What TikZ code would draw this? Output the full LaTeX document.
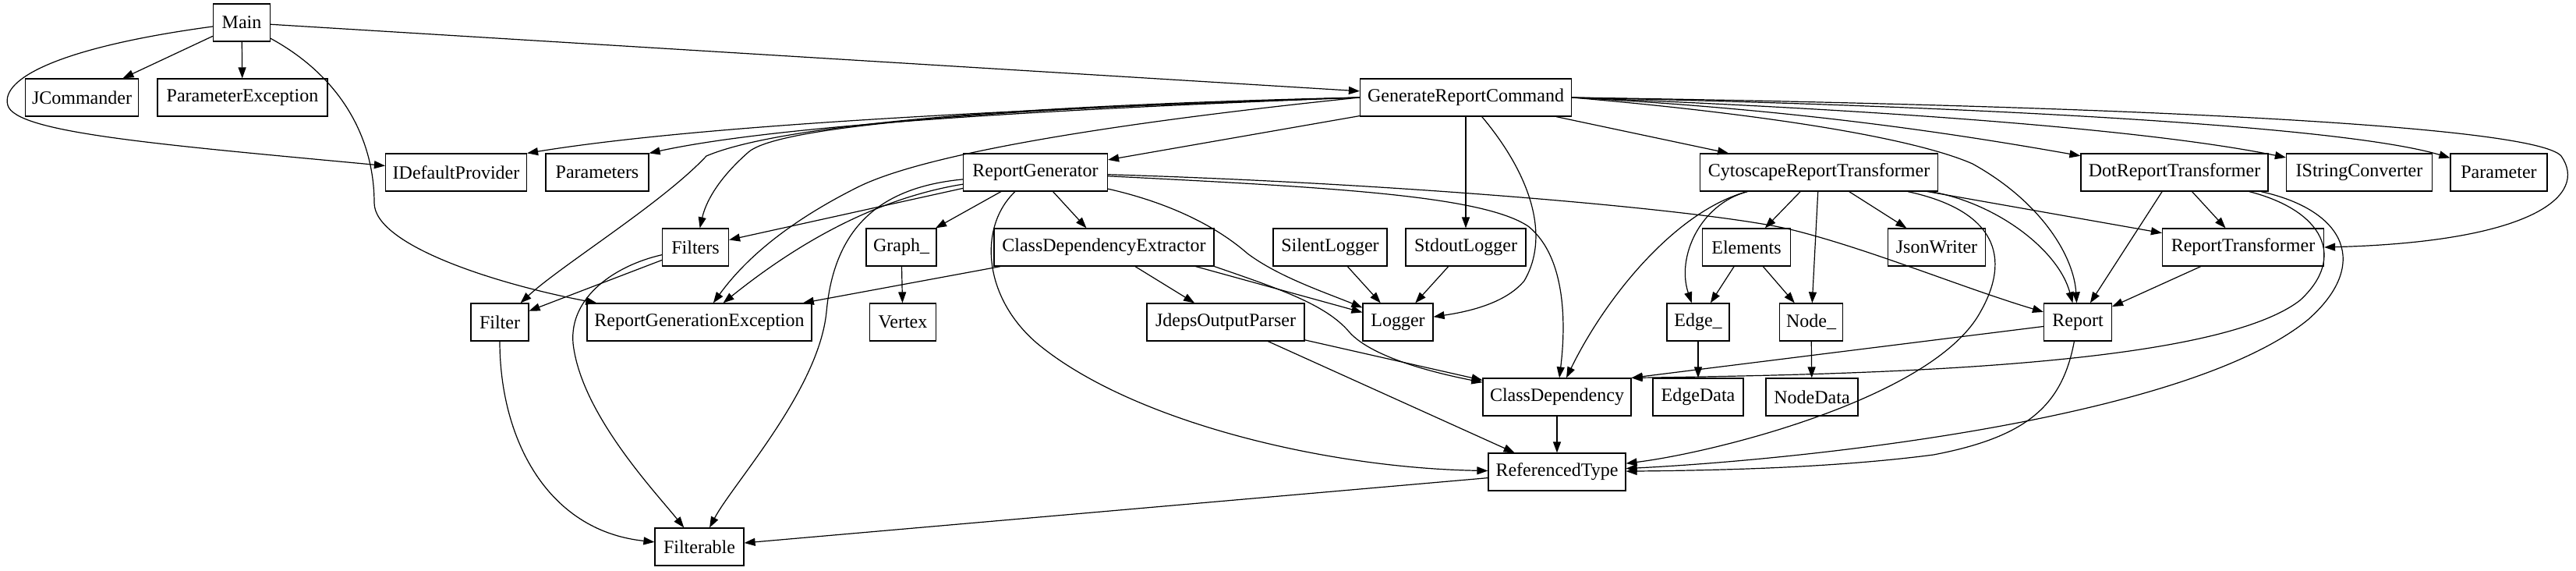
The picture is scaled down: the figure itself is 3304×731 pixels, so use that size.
\documentclass[tikz,border=0pt]{standalone}
\usepackage{fontspec}
\setmainfont{Liberation Serif}
\usetikzlibrary{arrows.meta}
\begin{document}
\begin{tikzpicture}[x=1pt,y=-1pt,
  box/.style={draw, line width=1.2pt, minimum height=48pt, inner sep=0pt, font=\fontsize{24}{28}\selectfont},
  edge/.style={line width=1.2pt, -{Triangle[length=14pt,width=10pt]}}]
\useasboundingbox (0,0) rectangle (3304,731);
% row 1
\node[box, minimum width=73pt] (main) at (310,29) {Main};
% row 2
\node[box, minimum width=145pt] (jcom) at (105,125) {JCommander};
\node[box, minimum width=218pt] (pexc) at (311,125) {ParameterException};
\node[box, minimum width=271pt] (grc) at (1880,125) {GenerateReportCommand};
% row 3
\node[box, minimum width=181pt] (idp) at (585,221) {IDefaultProvider};
\node[box, minimum width=132pt] (params) at (766,221) {Parameters};
\node[box, minimum width=185pt] (rg) at (1328,221) {ReportGenerator};
\node[box, minimum width=305pt] (crt) at (2333,221) {CytoscapeReportTransformer};
\node[box, minimum width=240pt] (drt) at (2789,221) {DotReportTransformer};
\node[box, minimum width=187pt] (isc) at (3026,221) {IStringConverter};
\node[box, minimum width=124pt] (param) at (3205,221) {Parameter};
% row 4
\node[box, minimum width=85pt] (filters) at (892,317) {Filters};
\node[box, minimum width=90pt] (graph) at (1156,317) {Graph\_};
\node[box, minimum width=282pt] (cde) at (1416,317) {ClassDependencyExtractor};
\node[box, minimum width=146pt] (slog) at (1706,317) {SilentLogger};
\node[box, minimum width=154pt] (stdlog) at (1880,317) {StdoutLogger};
\node[box, minimum width=113pt] (elements) at (2240,317) {Elements};
\node[box, minimum width=125pt] (json) at (2484,317) {JsonWriter};
\node[box, minimum width=207pt] (rt) at (2877,317) {ReportTransformer};
% row 5
\node[box, minimum width=74pt] (filter) at (641,413) {Filter};
\node[box, minimum width=288pt] (rex) at (897,413) {ReportGenerationException};
\node[box, minimum width=85pt] (vertex) at (1158,413) {Vertex};
\node[box, minimum width=202pt] (jdeps) at (1572,413) {JdepsOutputParser};
\node[box, minimum width=90pt] (logger) at (1793,413) {Logger};
\node[box, minimum width=80pt] (edge) at (2178,413) {Edge\_};
\node[box, minimum width=81pt] (nodeu) at (2323,413) {Node\_};
\node[box, minimum width=87pt] (report) at (2665,413) {Report};
% row 6
\node[box, minimum width=190pt] (cd) at (1997,509) {ClassDependency};
\node[box, minimum width=116pt] (edgedata) at (2178,509) {EdgeData};
\node[box, minimum width=118pt] (nodedata) at (2324,509) {NodeData};
% row 7
\node[box, minimum width=176pt] (reft) at (1997,605) {ReferencedType};
% row 8
\node[box, minimum width=114pt] (filterable) at (897,701) {Filterable};

% Main
\draw[edge] (main) -- (jcom);
\draw[edge] (main) -- (pexc);
\draw[edge] (main) -- (grc);
\draw[edge] (main) .. controls (80,60) and (0,100) .. (10,135) .. controls (20,170) and (200,185) .. (idp);
\draw[edge] (main) .. controls (440,100) and (480,180) .. (480,260) .. controls (480,315) and (640,365) .. (rex);

% GenerateReportCommand
\draw[edge] (grc.west) .. controls (1300,140) and (900,160) .. (idp.north east);
\draw[edge] (grc.west) .. controls (1350,140) and (1000,160) .. (params.north east);
\draw[edge] (grc) -- (rg);
\draw[edge] (grc.west) .. controls (1300,138) and (1000,160) .. (960,195) .. controls (920,230) and (905,260) .. (filters);
\draw[edge] (grc.west) .. controls (1300,135) and (1000,160) .. (906,200) .. controls (850,260) and (720,340) .. (filter);
\draw[edge] (grc.west) .. controls (1500,150) and (1200,190) .. (1100,240) .. controls (1000,290) and (950,340) .. (rex);
\draw[edge] (grc) -- (stdlog);
\draw[edge] (grc) .. controls (1960,220) and (1990,300) .. (1955,360) .. controls (1930,390) and (1880,400) .. (logger);
\draw[edge] (grc) -- (crt);
\draw[edge] (grc.east) .. controls (2300,140) and (2500,170) .. (drt);
\draw[edge] (grc.east) .. controls (2400,140) and (2750,165) .. (isc);
\draw[edge] (grc.east) .. controls (2500,135) and (3000,160) .. (param);
\draw[edge] (grc.east) .. controls (2700,135) and (3250,160) .. (3285,200) .. controls (3320,250) and (3250,310) .. (rt.east);
\draw[edge] (grc.east) .. controls (2250,145) and (2450,175) .. (2530,210) .. controls (2620,260) and (2660,330) .. (report);

% ReportGenerator
\draw[edge] (rg) -- (filters);
\draw[edge] (rg) .. controls (1150,250) and (1050,290) .. (rex);
\draw[edge] (rg) .. controls (1130,240) and (1070,290) .. (1060,400) .. controls (1050,500) and (940,620) .. (filterable);
\draw[edge] (rg) -- (graph);
\draw[edge] (rg) -- (cde);
\draw[edge] (rg) .. controls (1255,290) and (1260,380) .. (1330,440) .. controls (1450,540) and (1700,600) .. (reft);
\draw[edge] (rg) .. controls (1500,260) and (1560,290) .. (1600,325) .. controls (1640,355) and (1700,375) .. (logger);
\draw[edge] (rg) .. controls (1700,240) and (1900,250) .. (1960,290) .. controls (2010,330) and (2008,420) .. (cd);
\draw[edge] (rg) .. controls (1800,235) and (2200,270) .. (2300,295) .. controls (2400,320) and (2520,370) .. (report);

% Filters, Filter
\draw[edge] (filters) -- (filter);
\draw[edge] (filters) .. controls (790,340) and (730,380) .. (735,440) .. controls (745,530) and (840,630) .. (filterable);
\draw[edge] (filter) .. controls (641,560) and (700,680) .. (filterable);

% ClassDependencyExtractor
\draw[edge] (cde) -- (rex);
\draw[edge] (cde) -- (jdeps);
\draw[edge] ([xshift=-24pt]cde.south east) -- (logger);
\draw[edge] (cde.south east) .. controls (1640,370) and (1700,390) .. (1730,425) .. controls (1760,460) and (1850,480) .. (cd);
\draw[edge] (jdeps) -- (cd);
\draw[edge] (jdeps) -- (reft);
\draw[edge] (graph) -- (vertex);
\draw[edge] (slog) -- (logger);
\draw[edge] (stdlog) -- (logger);
\draw[edge] (cd) -- (reft);
\draw[edge] (reft) -- (filterable);

% CytoscapeReportTransformer
\draw[edge] (crt) -- (elements);
\draw[edge] (crt) -- (json);
\draw[edge] (crt) -- (nodeu);
\draw[edge] (crt) .. controls (2180,262) and (2150,330) .. (edge);
\draw[edge] (crt) .. controls (2150,270) and (2060,380) .. (cd);
\draw[edge] (crt) -- (rt);
\draw[edge] (crt) .. controls (2560,260) and (2640,320) .. (report);
\draw[edge] (crt) .. controls (2560,270) and (2580,330) .. (2540,400) .. controls (2480,510) and (2200,580) .. (reft);
\draw[edge] (elements) -- (edge);
\draw[edge] (elements) -- (nodeu);
\draw[edge] (edge) -- (edgedata);
\draw[edge] (nodeu) -- (nodedata);

% DotReportTransformer
\draw[edge] (drt) -- (report);
\draw[edge] (drt) -- (rt);
\draw[edge] (drt) .. controls (2980,270) and (3010,330) .. (2950,385) .. controls (2840,470) and (2400,480) .. (cd.north east);
\draw[edge] (drt) .. controls (3010,270) and (3040,340) .. (2960,410) .. controls (2800,540) and (2300,590) .. (reft);
\draw[edge] (rt) -- (report);

% Report
\draw[edge] (report) -- (cd.north east);
\draw[edge] (report) .. controls (2645,520) and (2600,560) .. (2480,583) .. controls (2350,600) and (2200,603) .. (reft);
\end{tikzpicture}
\end{document}
